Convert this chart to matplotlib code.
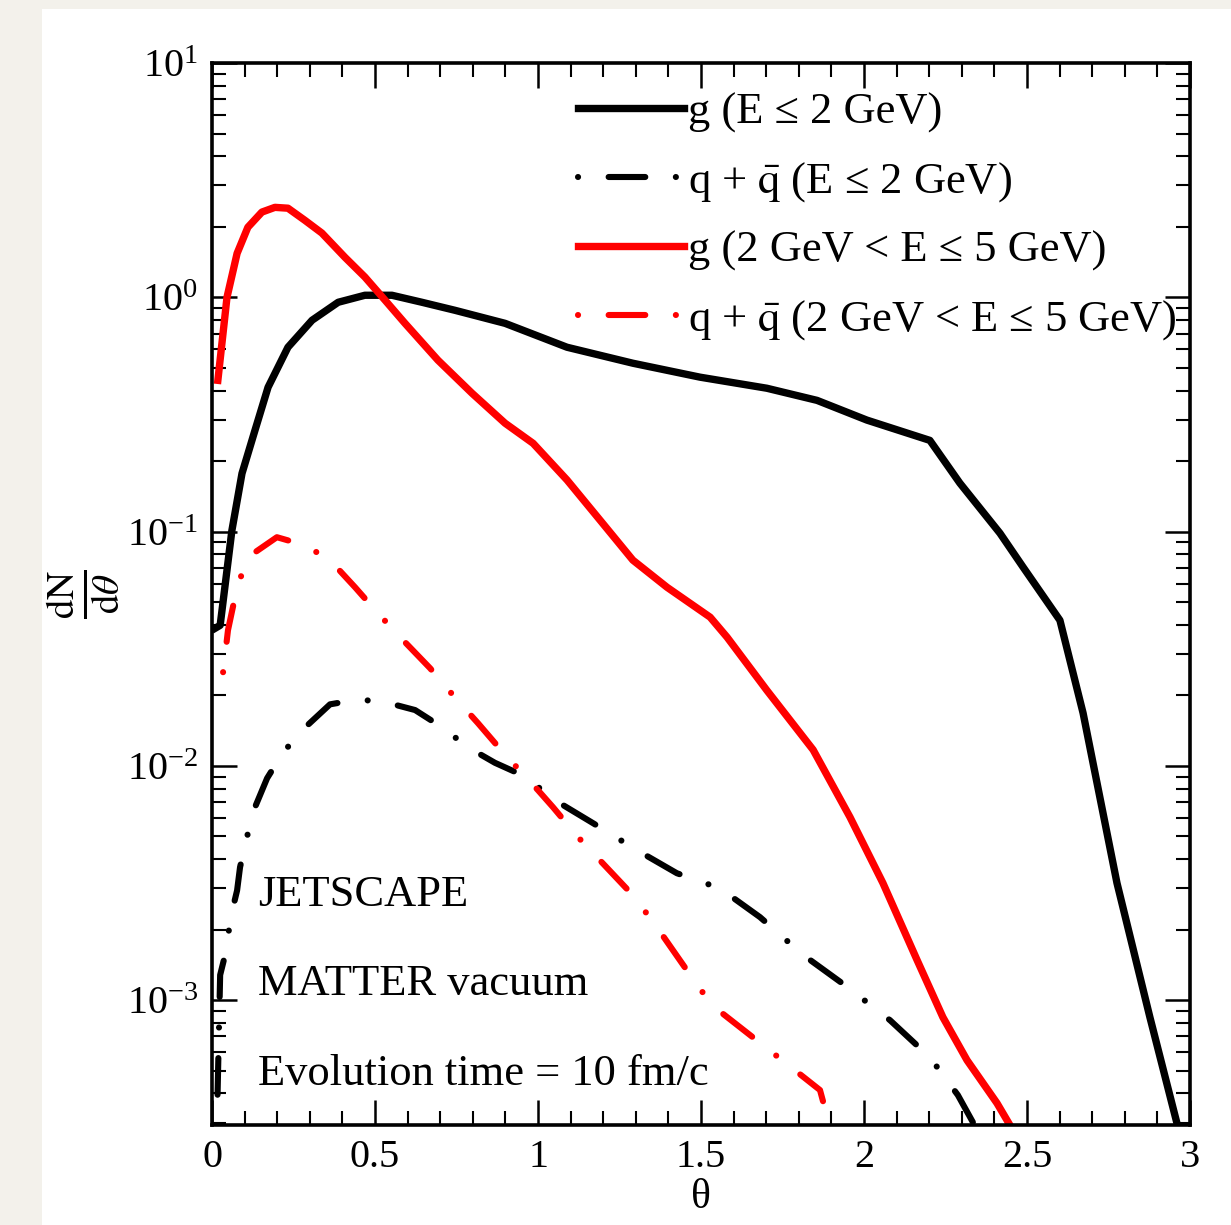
import matplotlib
matplotlib.use('Agg')
import matplotlib.pyplot as plt
from matplotlib.ticker import MultipleLocator, LogLocator, NullFormatter
from matplotlib.patches import Rectangle

plt.rcParams['font.family'] = ['Liberation Serif', 'DejaVu Serif']
plt.rcParams['mathtext.fontset'] = 'stix'
plt.rcParams['axes.unicode_minus'] = False

# g, E <= 2 GeV
theta_g_low = [0.009, 0.025, 0.061, 0.092, 0.132, 0.172, 0.233, 0.307, 0.387, 0.469,
               0.552, 0.644, 0.745, 0.899, 1.089, 1.291, 1.497, 1.702, 1.856, 2.009,
               2.202, 2.294, 2.417, 2.488, 2.601, 2.672, 2.776, 2.877, 2.960]
dn_g_low = [0.0386, 0.0398, 0.101, 0.177, 0.271, 0.413, 0.612, 0.798, 0.952, 1.02,
            1.02, 0.952, 0.880, 0.774, 0.612, 0.523, 0.456, 0.409, 0.363, 0.299,
            0.245, 0.161, 0.0984, 0.0705, 0.0418, 0.0168, 0.00316, 0.000845, 0.000298]

# q + qbar, E <= 2 GeV
theta_q_low = [0.015, 0.025, 0.046, 0.055, 0.077, 0.086, 0.107, 0.132, 0.169, 0.218,
               0.279, 0.362, 0.448, 0.531, 0.623, 0.706, 0.785, 0.868, 0.966, 1.037,
               1.169, 1.304, 1.426, 1.558, 1.681, 1.813, 1.948, 2.080, 2.202, 2.288, 2.334]
dn_q_low = [0.000292, 0.00128, 0.00168, 0.00219, 0.00294, 0.00369, 0.00496, 0.00666,
            0.00885, 0.0114, 0.0143, 0.0183, 0.0192, 0.0187, 0.0173, 0.0146, 0.0120,
            0.0103, 0.00894, 0.00734, 0.00569, 0.00436, 0.00348, 0.00300, 0.00226,
            0.00156, 0.00114, 0.00082, 0.00057, 0.000393, 0.000301]

# g, 2 < E <= 5 GeV
theta_g_mid = [0.018, 0.046, 0.077, 0.110, 0.153, 0.193, 0.233, 0.285, 0.337, 0.408,
               0.469, 0.531, 0.592, 0.693, 0.798, 0.899, 0.985, 1.089, 1.190, 1.291,
               1.396, 1.528, 1.580, 1.702, 1.844, 1.957, 2.058, 2.163, 2.242, 2.316,
               2.408, 2.448]
dn_g_mid = [0.442, 1.0, 1.54, 1.99, 2.31, 2.42, 2.40, 2.13, 1.88, 1.48,
            1.22, 0.971, 0.774, 0.539, 0.389, 0.290, 0.238, 0.166, 0.112, 0.0755,
            0.0578, 0.0431, 0.0354, 0.0210, 0.0117, 0.00604, 0.00316, 0.00148,
            0.000845, 0.000554, 0.000363, 0.000292]

# q + qbar, 2 < E <= 5 GeV
theta_q_mid = [0.034, 0.049, 0.077, 0.110, 0.199, 0.285, 0.362, 0.439, 0.509, 0.586,
               0.669, 0.745, 0.816, 0.893, 1.000, 1.046, 1.123, 1.282, 1.350, 1.472,
               1.534, 1.702, 1.788, 1.865, 1.890]
dn_q_mid = [0.0251, 0.0379, 0.0578, 0.0777, 0.0946, 0.0874, 0.0755, 0.0578, 0.0448,
            0.0344, 0.0261, 0.0196, 0.0152, 0.0114, 0.00787, 0.00666, 0.00496,
            0.00289, 0.00219, 0.00125, 0.00095, 0.000623, 0.000502, 0.000413, 0.000307]

labels = ['g (E ≤ 2 GeV)',
          r'q + $\bar{\mathrm{q}}$ (E ≤ 2 GeV)',
          'g (2 GeV < E ≤ 5 GeV)',
          r'q + $\bar{\mathrm{q}}$ (2 GeV < E ≤ 5 GeV)']
notes = ['JETSCAPE', 'MATTER vacuum', 'Evolution time = 10 fm/c']

fig = plt.figure(figsize=(12.31, 12.25), dpi=100)
fig.patch.set_facecolor('#f3f1eb')
fig.add_artist(Rectangle((42 / 1231, 0), 1, 1 - 9 / 1225, transform=fig.transFigure,
                         facecolor='white', edgecolor='none', zorder=-10))

ax = fig.add_axes([212 / 1231, 100 / 1225, 978 / 1231, 1062 / 1225])
ax.set_zorder(1)
ax.patch.set_alpha(0)

# dash, gap, dot, gap (in linewidth units), start on the dot
dashdot = (6.0 + 5.0, (6.0, 5.0, 0.01, 5.0))
ax.plot(theta_g_low, dn_g_low, color='black', lw=5.3, label=labels[0],
        solid_joinstyle='round')
ax.plot(theta_q_low, dn_q_low, color='black', lw=4.4, linestyle=dashdot,
        dash_capstyle='round', label=labels[1])
ax.plot(theta_g_mid, dn_g_mid, color='red', lw=5.3, label=labels[2],
        solid_joinstyle='round')
ax.plot(theta_q_mid, dn_q_mid, color='red', lw=4.4, linestyle=dashdot,
        dash_capstyle='round', label=labels[3])

ax.set_yscale('log')
ax.set_xlim(0, 3)
ax.set_ylim(2.93e-4, 10)

ax.set_xticks([0, 0.5, 1, 1.5, 2, 2.5, 3])
ax.set_xticklabels(['0', '0.5', '1', '1.5', '2', '2.5', '3'])
ax.xaxis.set_minor_locator(MultipleLocator(0.1))
ax.yaxis.set_major_locator(LogLocator(base=10, numticks=20))
ax.yaxis.set_minor_locator(LogLocator(base=10, subs=range(2, 10), numticks=20))
ax.yaxis.set_minor_formatter(NullFormatter())

ax.tick_params(which='both', direction='in', top=True, right=True, labelsize=29, pad=10)
ax.tick_params(which='major', length=18, width=1.8)
ax.tick_params(which='minor', length=10, width=1.5)
for s in ax.spines.values():
    s.set_linewidth(2.6)

ax.set_xlabel('θ', fontsize=30, labelpad=2)
ax.set_ylabel(r'$\frac{\mathrm{dN}}{\mathrm{d}\theta}$', fontsize=40, labelpad=4)

ax.legend(loc='upper left', bbox_to_anchor=(0.374, 0.972), frameon=False, fontsize=32,
          handlelength=2.4, handletextpad=0.08, labelspacing=0.6, borderpad=0,
          borderaxespad=0)

for txt, yy in zip(notes, [0.206, 0.122, 0.038]):
    ax.text(0.047, yy, txt, transform=ax.transAxes, fontsize=32, va='baseline')

fig.savefig('out.png', dpi=100, facecolor=fig.get_facecolor())
